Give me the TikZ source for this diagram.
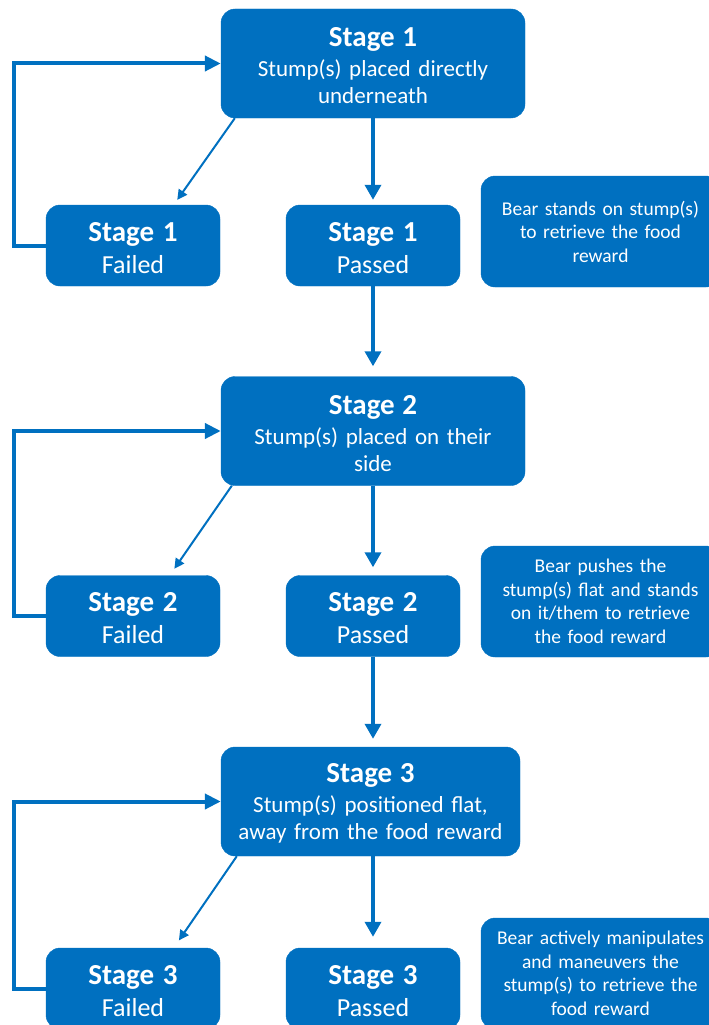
\documentclass[tikz,border=0pt]{standalone}
\usepackage{fontspec}
\setmainfont{Carlito}
\usetikzlibrary{arrows.meta}
\definecolor{myblue}{HTML}{0070C0}
\tikzset{
  box/.style={fill=myblue, draw=myblue, rounded corners=14pt, text=white, align=center, inner xsep=4pt, inner ysep=0pt},
  stagebox/.style={box, text width=296pt, minimum height=109pt, font=\fontsize{23}{27}\selectfont},
  smallbox/.style={box, text width=166pt, minimum height=81pt, font=\fontsize{26}{32}\selectfont},
  notebox/.style={box, text width=231pt, minimum height=111pt, font=\fontsize{19.5}{23.5}\selectfont},
  mainarrow/.style={draw=myblue, line width=3.5pt, -{Triangle[length=15pt,width=16pt]}},
  looparrow/.style={draw=myblue, line width=4pt, -{Triangle[length=16pt,width=15pt]}},
  diagarrow/.style={draw=myblue, line width=2pt, -{Triangle[length=10pt,width=10pt]}}
}
\newcommand\sttitle[1]{{\fontsize{29}{33}\selectfont\bfseries\rule{0pt}{23.5pt}#1}}
\begin{document}
\begin{tikzpicture}[x=1pt,y=-1pt]
\useasboundingbox (0,0) rectangle (709,1025);
\clip (0,0) rectangle (709,1025);

% Stage 1
\node[stagebox] (s1) at (373,63.5) {\sttitle{Stage 1}\\[3pt]Stump(s) placed directly\\underneath};
\node[smallbox] (f1) at (133,245.5) {\sttitle{Stage 1}\\Failed};
\node[smallbox] (p1) at (373,245.5) {\sttitle{Stage 1}\\Passed};
\node[notebox] (r1) at (600.5,231.5) {Bear stands on stump(s)\\to retrieve the food\\reward};

% Stage 2
\node[stagebox] (s2) at (373,431) {\sttitle{Stage 2}\\[3pt]Stump(s) placed on their\\side};
\node[smallbox] (f2) at (133,616) {\sttitle{Stage 2}\\Failed};
\node[smallbox] (p2) at (373,616) {\sttitle{Stage 2}\\Passed};
\node[notebox] (r2) at (600.5,601.5) {Bear pushes the\\stump(s) flat and stands\\on it/them to retrieve\\the food reward};

% Stage 3
\node[stagebox, text width=291pt] (s3) at (370.5,801.5) {\sttitle{Stage 3}\\[3pt]Stump(s) positioned flat,\\away from the food reward};
\node[smallbox] (f3) at (133,988.5) {\sttitle{Stage 3}\\Failed};
\node[smallbox] (p3) at (373,988.5) {\sttitle{Stage 3}\\Passed};
\node[notebox] (r3) at (600.5,973.5) {Bear actively manipulates\\and maneuvers the\\stump(s) to retrieve the\\food reward};

% connectors stage 1
\draw[mainarrow, shorten >=5pt] (s1.south) -- (p1.north);
\draw[diagarrow, shorten >=6pt] ([xshift=14pt]s1.south west) -- ([xshift=128pt]f1.north west);
\draw[looparrow] (f1.west) -- ++(-32,0) |- (s1.west);
\draw[mainarrow, shorten >=10pt] (p1.south) -- (s2.north);

% connectors stage 2
\draw[mainarrow, shorten >=8pt] (s2.south) -- (p2.north);
\draw[diagarrow, shorten >=8pt] ([xshift=11pt]s2.south west) -- ([xshift=124pt]f2.north west);
\draw[looparrow] (f2.west) -- ++(-32,0) |- (s2.west);
\draw[mainarrow, shorten >=8pt] (p2.south) -- (p2.south |- s3.north);

% connectors stage 3
\draw[mainarrow, shorten >=11pt] (p3.north |- s3.south) -- (p3.north);
\draw[diagarrow, shorten >=9pt] ([xshift=16pt]s3.south west) -- ([xshift=128pt]f3.north west);
\draw[looparrow] (f3.west) -- ++(-32,0) |- (s3.west);
\end{tikzpicture}
\end{document}
